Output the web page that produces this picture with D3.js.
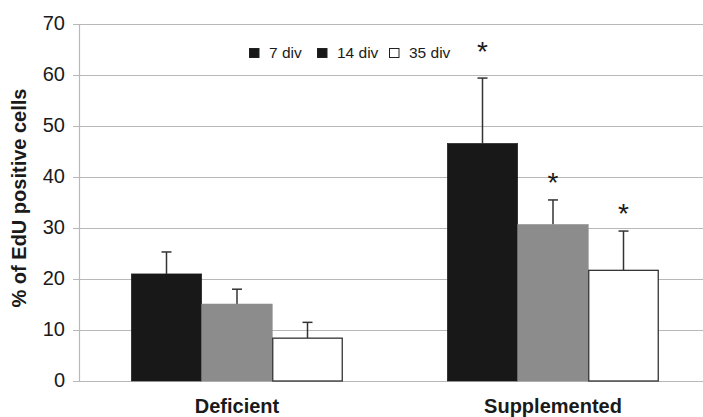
<!DOCTYPE html>
<html><head><meta charset="utf-8">
<script src="https://cdn.jsdelivr.net/npm/d3@7"></script>
<style>body{margin:0;background:#fff}svg{display:block;font-family:"Liberation Sans",Arial,sans-serif}</style>
</head><body><svg id="c" width="703" height="417"></svg>
<script>
const categories = ["Deficient", "Supplemented"];
const seriesNames = ["7 div", "14 div", "35 div"];
const means7 = [21.0, 46.6];
const means14 = [15.1, 30.7];
const means35 = [8.4, 21.7];
const err7 = [4.3, 12.8];
const err14 = [2.9, 4.8];
const err35 = [3.1, 7.7];
// significance star positions (in % units), null = none
const star7 = [null, 66.0];
const star14 = [null, 40.2];
const star35 = [null, 34.2];
const yTicks = [0, 10, 20, 30, 40, 50, 60, 70];

const fills = ["#181818", "#8c8c8c", "#ffffff"];
const legendFills = ["#181818", "#181818", "#ffffff"];
const strokes = ["#181818", "#8c8c8c", "#333333"];

const svg = d3.select("#c");
const x0 = d3.scaleBand().domain(categories).range([79, 711]).paddingInner(0).paddingOuter(0);
const y = d3.scaleLinear().domain([0, 70]).range([381, 24]);
const barW = 70.5;
const x1 = d3.scaleBand().domain(seriesNames).range([-barW * 1.5, barW * 1.5]);

// gridlines
svg.append("g").selectAll("line").data(yTicks).join("line")
  .attr("x1", 73).attr("x2", 703)
  .attr("y1", d => Math.round(y(d)) + 0.5).attr("y2", d => Math.round(y(d)) + 0.5)
  .attr("stroke", "#b8b8b8").attr("stroke-width", 1.2);
// axis line
svg.append("line").attr("x1", 79.5).attr("x2", 79.5).attr("y1", y(70)).attr("y2", y(0))
  .attr("stroke", "#b8b8b8").attr("stroke-width", 1.2);

// tick labels
svg.append("g").selectAll("text").data(yTicks).join("text")
  .attr("x", 65).attr("y", d => y(d)).attr("dy", "0.32em")
  .attr("text-anchor", "end").attr("font-size", 20).attr("fill", "#1a1a1a")
  .text(d => d);

// axis title
svg.append("text").attr("transform", "translate(26,198) rotate(-90)")
  .attr("text-anchor", "middle").attr("font-size", 20).attr("font-weight", "bold").attr("fill", "#1a1a1a")
  .text("% of EdU positive cells");

const series = [
  {name: seriesNames[0], means: means7, errs: err7, star: star7},
  {name: seriesNames[1], means: means14, errs: err14, star: star14},
  {name: seriesNames[2], means: means35, errs: err35, star: star35}
];

series.forEach((s, si) => {
  const g = svg.append("g");
  categories.forEach((c, ci) => {
    const cx = x0(c) + x0.bandwidth() / 2 + x1(s.name);
    const mid = cx + x1.bandwidth() / 2;
    const top = y(s.means[ci]);
    const et = y(s.means[ci] + s.errs[ci]);
    // error bar
    g.append("line").attr("x1", mid).attr("x2", mid).attr("y1", top).attr("y2", et)
      .attr("stroke", "#333").attr("stroke-width", 1.5);
    g.append("line").attr("x1", mid - 5).attr("x2", mid + 5).attr("y1", et).attr("y2", et)
      .attr("stroke", "#333").attr("stroke-width", 1.5);
    g.append("rect").attr("x", cx + (si === 2 ? 0.5 : 0)).attr("y", top)
      .attr("width", x1.bandwidth() - (si === 2 ? 1 : 0)).attr("height", y(0) - top)
      .attr("fill", fills[si]).attr("stroke", strokes[si]).attr("stroke-width", si === 2 ? 1.3 : 0.5);
    if (s.star[ci] !== null) {
      g.append("text").attr("x", mid).attr("y", y(s.star[ci]) + 0.58 * 28)
        .attr("text-anchor", "middle").attr("font-size", 28).attr("fill", "#1a1a1a").text("*");
    }
  });
});

// category labels
svg.append("g").selectAll("text").data(categories).join("text")
  .attr("x", d => x0(d) + x0.bandwidth() / 2).attr("y", 413)
  .attr("text-anchor", "middle").attr("font-size", 20).attr("font-weight", "bold").attr("fill", "#1a1a1a")
  .text(d => d);

// legend
const legX = [249, 317, 389];
const lg = svg.append("g");
seriesNames.forEach((n, i) => {
  lg.append("rect").attr("x", legX[i] + 0.5).attr("y", 48.5).attr("width", 9.5).attr("height", 9)
    .attr("fill", legendFills[i]).attr("stroke", "#222").attr("stroke-width", 1);
  lg.append("text").attr("x", legX[i] + 20).attr("y", 57.5)
    .attr("font-size", 15.5).attr("fill", "#1a1a1a").text(n);
});
</script></body></html>
